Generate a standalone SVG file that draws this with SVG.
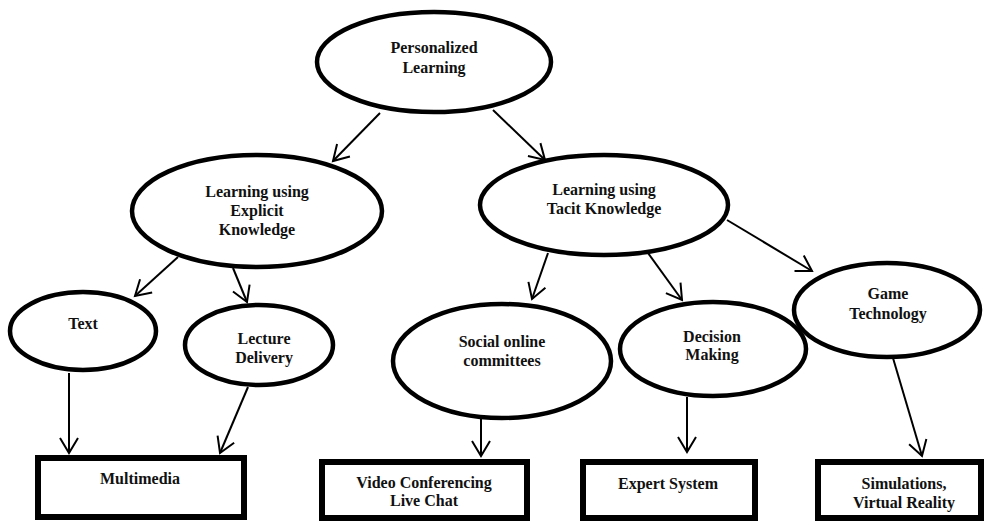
<svg xmlns="http://www.w3.org/2000/svg" width="986" height="522" viewBox="0 0 986 522">
<style>
.el{fill:#fff;stroke:#000;stroke-width:4.5}
.bx{fill:#fff;stroke:#000;stroke-width:6}
.t{font-weight:bold;font-size:16px;fill:#111;text-anchor:middle}
.c{stroke:#000;stroke-width:2;fill:none;marker-end:url(#ah)}
</style>
<defs>
<marker id="ah" markerUnits="userSpaceOnUse" viewBox="-16 -10 18 20" refX="0" refY="0" markerWidth="18" markerHeight="20" orient="auto" overflow="visible">
<path d="M-15,-9 L0,0 L-15,9" fill="none" stroke="#000" stroke-width="2"/>
</marker>
</defs>
<g id="connectors">
<line class="c" x1="380" y1="113" x2="333" y2="161"/>
<line class="c" x1="493" y1="110" x2="545" y2="160"/>
<line class="c" x1="178" y1="257" x2="135" y2="296"/>
<line class="c" x1="233" y1="268" x2="247" y2="302"/>
<line class="c" x1="548" y1="253" x2="532" y2="299"/>
<line class="c" x1="648" y1="253" x2="682" y2="300"/>
<line class="c" x1="727" y1="220" x2="812" y2="271"/>
<line class="c" x1="69" y1="373" x2="69" y2="453"/>
<line class="c" x1="248" y1="387" x2="220" y2="453"/>
<line class="c" x1="481" y1="418" x2="481" y2="456"/>
<line class="c" x1="687" y1="397" x2="687" y2="452"/>
<line class="c" x1="893" y1="358" x2="922" y2="456"/>
</g>
<g font-family="Liberation Serif, Times New Roman, serif">
<g id="personalized">
<ellipse class="el" cx="434" cy="62" rx="117" ry="50"/>
<text class="t" x="434" y="53">Personalized</text>
<text class="t" x="434" y="73">Learning</text>
</g>
<g id="explicit">
<ellipse class="el" cx="257" cy="211" rx="125" ry="56"/>
<text class="t" x="257" y="197">Learning using</text>
<text class="t" x="257" y="216">Explicit</text>
<text class="t" x="257" y="235">Knowledge</text>
</g>
<g id="tacit">
<ellipse class="el" cx="604" cy="205" rx="124" ry="50"/>
<text class="t" x="604" y="195">Learning using</text>
<text class="t" x="604" y="214">Tacit Knowledge</text>
</g>
<g id="text">
<ellipse class="el" cx="83" cy="331" rx="73" ry="39"/>
<text class="t" x="83" y="329">Text</text>
</g>
<g id="lecture">
<ellipse class="el" cx="259" cy="345" rx="74" ry="40"/>
<text class="t" x="264" y="344">Lecture</text>
<text class="t" x="264" y="363">Delivery</text>
</g>
<g id="social">
<ellipse class="el" cx="502" cy="361" rx="109" ry="57"/>
<text class="t" x="502" y="347">Social online</text>
<text class="t" x="502" y="366">committees</text>
</g>
<g id="decision">
<ellipse class="el" cx="713" cy="349" rx="93" ry="47"/>
<text class="t" x="712" y="342">Decision</text>
<text class="t" x="712" y="360">Making</text>
</g>
<g id="game">
<ellipse class="el" cx="887" cy="310" rx="93" ry="47"/>
<text class="t" x="888" y="299">Game</text>
<text class="t" x="888" y="319">Technology</text>
</g>
<g id="multimedia">
<rect class="bx" x="38" y="458" width="206" height="59"/>
<text class="t" x="140" y="484">Multimedia</text>
</g>
<g id="video">
<rect class="bx" x="322" y="462" width="205" height="56"/>
<text class="t" x="424" y="488">Video Conferencing</text>
<text class="t" x="424" y="506">Live Chat</text>
</g>
<g id="expert">
<rect class="bx" x="583" y="462" width="172" height="56"/>
<text class="t" x="668" y="489">Expert System</text>
</g>
<g id="sim">
<rect class="bx" x="818" y="462" width="163" height="56"/>
<text class="t" x="904" y="489">Simulations,</text>
<text class="t" x="904" y="508">Virtual Reality</text>
</g>
</g>
</svg>
